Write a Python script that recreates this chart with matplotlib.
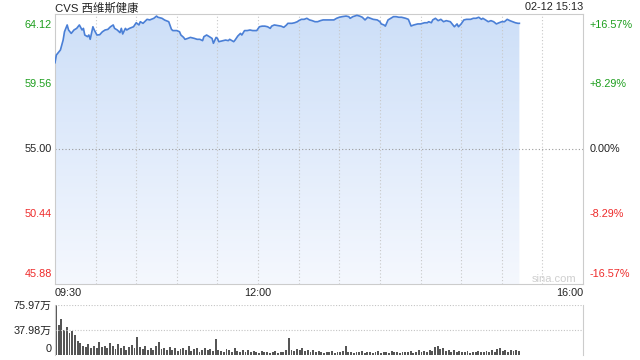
import matplotlib
matplotlib.use('Agg')
import matplotlib.pyplot as plt
import numpy as np
from matplotlib.colors import LinearSegmentedColormap
from matplotlib.patches import PathPatch

plt.rcParams['font.family'] = ['Liberation Sans', 'Noto Sans CJK SC']

# minutes after 09:30 and price
minutes = [0, 1, 4, 6, 7, 9, 10, 12, 14, 16, 18, 20, 21, 22, 24, 25, 26, 28, 29, 31,
           33, 35, 37, 39, 41, 43, 44, 46, 48, 49, 50, 52, 53, 55, 58, 60, 62, 63, 65, 68,
           70, 73, 75, 76, 79, 81, 84, 86, 87, 90, 92, 93, 95, 96, 98, 100, 103, 105, 107, 109,
           110, 112, 114, 116, 117, 119, 120, 121, 124, 126, 128, 129, 132, 133, 135, 137, 138, 140, 142, 144,
           146, 149, 151, 153, 155, 157, 159, 160, 162, 165, 167, 169, 171, 172, 175, 177, 179, 180, 182, 184,
           186, 188, 190, 192, 194, 196, 198, 201, 203, 206, 208, 210, 212, 215, 217, 218, 220, 223, 225, 227,
           229, 231, 233, 235, 238, 240, 241, 243, 244, 246, 248, 250, 252, 254, 256, 259, 261, 262, 263, 265,
           268, 270, 273, 275, 276, 278, 279, 281, 283, 285, 287, 289, 292, 293, 295, 297, 298, 300, 302, 304,
           307, 309, 311, 313, 315, 316, 318, 320, 322, 324, 326, 328, 330, 332, 334, 336, 338, 340, 342, 343]
prices = [60.83, 61.35, 61.69, 62.36, 62.92, 63.38, 63.04, 62.81, 63.04, 63.15, 63.38, 63.04, 63.15, 62.70, 62.59, 62.70, 62.41, 63.26, 63.04, 62.70,
          62.72, 62.92, 63.04, 63.08, 63.26, 63.38, 63.15, 63.04, 62.86, 63.15, 62.77, 63.15, 63.04, 63.15, 63.26, 63.53, 63.38, 63.60, 63.49, 63.76,
          63.72, 63.83, 63.98, 63.90, 63.83, 63.71, 63.60, 63.09, 63.00, 63.00, 62.92, 62.70, 62.54, 62.41, 62.47, 62.54, 62.47, 62.41, 62.41, 62.32,
          62.59, 62.70, 62.59, 62.47, 62.14, 62.54, 62.47, 62.25, 62.32, 62.36, 62.32, 62.41, 62.25, 62.36, 62.63, 62.81, 62.70, 63.00, 63.00, 63.04,
          63.00, 63.00, 63.26, 63.30, 63.30, 63.26, 63.15, 63.30, 63.38, 63.33, 63.30, 63.22, 63.38, 63.49, 63.49, 63.53, 63.60, 63.67, 63.76, 63.76,
          63.83, 63.72, 63.67, 63.60, 63.60, 63.67, 63.72, 63.72, 63.72, 63.72, 63.83, 63.90, 63.94, 63.98, 63.94, 63.83, 63.94, 64.03, 63.98, 63.90,
          63.72, 63.90, 63.83, 63.76, 63.72, 63.60, 63.45, 63.38, 63.30, 63.72, 63.83, 63.94, 63.94, 63.90, 63.90, 63.83, 63.76, 63.53, 63.31, 63.38,
          63.45, 63.45, 63.53, 63.53, 63.60, 63.53, 63.72, 63.83, 63.67, 63.76, 63.60, 63.67, 63.60, 63.49, 63.26, 63.45, 63.26, 63.45, 63.72, 63.76,
          63.76, 63.83, 63.83, 63.90, 63.76, 63.83, 63.72, 63.60, 63.67, 63.60, 63.45, 63.53, 63.60, 63.60, 63.76, 63.67, 63.60, 63.53, 63.49, 63.49]

# volume per two minutes, in 万
volume = [76, 45, 55, 38, 42, 33, 36, 30, 22, 18,
          14, 12, 16, 10, 13, 11, 20, 12, 14, 10,
          18, 13, 9, 16, 11, 14, 8, 12, 15, 10,
          28, 12, 9, 14, 8, 11, 7, 13, 20, 9,
          10, 7, 12, 8, 11, 6, 9, 10, 7, 13,
          6, 9, 11, 5, 8, 10, 7, 9, 6, 25,
          8, 6, 5, 9, 7, 5, 10, 6, 4, 8,
          5, 7, 4, 6, 5, 3, 6, 4, 5, 3,
          4, 6, 3, 5, 4, 7, 26, 8, 6, 9,
          7, 10, 6, 8, 5, 7, 4, 6, 5, 3,
          5, 4, 6, 3, 5, 4, 6, 13, 5, 4,
          3, 5, 4, 6, 3, 4, 5, 3, 4, 6,
          3, 5, 4, 3, 6, 4, 5, 3, 4, 5,
          4, 6, 3, 5, 7, 4, 6, 5, 8, 6,
          12, 13, 9, 11, 6, 7, 5, 8, 4, 6,
          5, 4, 6, 3, 5, 4, 6, 5, 4, 6,
          5, 7, 4, 9, 10, 6, 8, 5, 7, 6,
          8, 6]
vol_minutes = [2 * i for i in range(len(volume))]

price_ticks = [64.12, 59.56, 55.00, 50.44, 45.88]
pct_labels = ['+16.57%', '+8.29%', '0.00%', '-8.29%', '-16.57%']
tick_colors = ['#1d9e1d', '#1d9e1d', '#222222', '#ee2a2a', '#ee2a2a']
time_ticks = [0, 150, 390]
time_labels = ['09:30', '12:00', '16:00']
vol_ticks = [75.97, 37.98, 0]
vol_labels = ['75.97万', '37.98万', '0']

W, H = 640, 360
fig = plt.figure(figsize=(6.4, 3.6), dpi=100)
ax = fig.add_axes([55 / W, 1 - 284 / H, 528 / W, 270 / H])
ax.set_xlim(0, 390)
ax.set_ylim(45.88, 64.12)

# gradient area under the price line
poly = ax.fill_between(minutes, prices, 45.88, color='none', lw=0)
patch = PathPatch(poly.get_paths()[0], transform=ax.transData, fc='none', ec='none')
ax.add_patch(patch)
cmap = LinearSegmentedColormap.from_list('blu', ['#f5f8fe', '#cddff8'])
grad = np.linspace(0, 1, 256).reshape(-1, 1)
im = ax.imshow(grad, extent=[0, 390, 45.88, 64.12], origin='lower', aspect='auto',
               cmap=cmap, zorder=1)
im.set_clip_path(patch)
ax.plot(minutes, prices, color='#4a7fd6', lw=1.2, zorder=3)

for t in range(30, 390, 30):
    ax.axvline(t, color='#c8c8c8', lw=0.8, ls=(0, (1, 2)), zorder=2)
ax.axhline(55.0, color='#9a9a9a', lw=0.8, ls=(0, (1, 2)), zorder=2)

ax.set_xticks([])
ax.set_yticks([])
for s in ax.spines.values():
    s.set_color('#cccccc')

offsets = [-0.4, -0.17, 0, 0.17, 0.35]
for i, (p, lab, c) in enumerate(zip(price_ticks, pct_labels, tick_colors)):
    va = 'top' if i == 0 else ('bottom' if i == len(price_ticks) - 1 else 'center')
    ax.text(-0.006, p + offsets[i], f'{p:.2f}', transform=ax.get_yaxis_transform(),
            ha='right', va=va, color=c, fontsize=7.8)
    ax.text(1.013, p + offsets[i], lab, transform=ax.get_yaxis_transform(),
            ha='left', va=va, color=c, fontsize=7.8)

has = ['left', 'center', 'right']
for t, lab, ha in zip(time_ticks, time_labels, has):
    ax.text(t, -0.034, lab, transform=ax.get_xaxis_transform(), ha=ha, va='center',
            fontsize=7.8, color='#222222')

ax.text(0.988, 0.018, 'sina.com', transform=ax.transAxes, ha='right', va='center',
        fontsize=8, color='#cfcfcf')

fig.text(55 / W, 1 - 8 / H, 'CVS 西维斯健康', ha='left', va='center', fontsize=8.2,
         color='#222222')
fig.text(583 / W, 1 - 7.5 / H, '02-12 15:13', ha='right', va='center', fontsize=7.8,
         color='#222222')

# volume panel
ax2 = fig.add_axes([55 / W, 1 - 355 / H, 528 / W, 50 / H])
ax2.set_xlim(0, 390)
ax2.set_ylim(0, 75.97)
ax2.bar(vol_minutes, volume, width=1.4, align='edge', color='#555555', lw=0, clip_on=False)
for v in vol_ticks[:2]:
    ax2.axhline(v, color='#c4c4c4', lw=0.8, ls=(0, (1, 1.5)))
ax2.set_xticks([])
ax2.set_yticks([])
ax2.spines['top'].set_visible(False)
ax2.spines['bottom'].set_visible(False)
ax2.spines['left'].set_color('#cccccc')
ax2.spines['right'].set_color('#cccccc')
vas = ['center', 'center', 'bottom']
for v, lab, va in zip(vol_ticks, vol_labels, vas):
    yy = v - 2 if v > 0 else 1
    ax2.text(-0.006, yy, lab, transform=ax2.get_yaxis_transform(), ha='right', va=va,
             fontsize=7.8, color='#222222')

fig.savefig('out.png', dpi=100)
